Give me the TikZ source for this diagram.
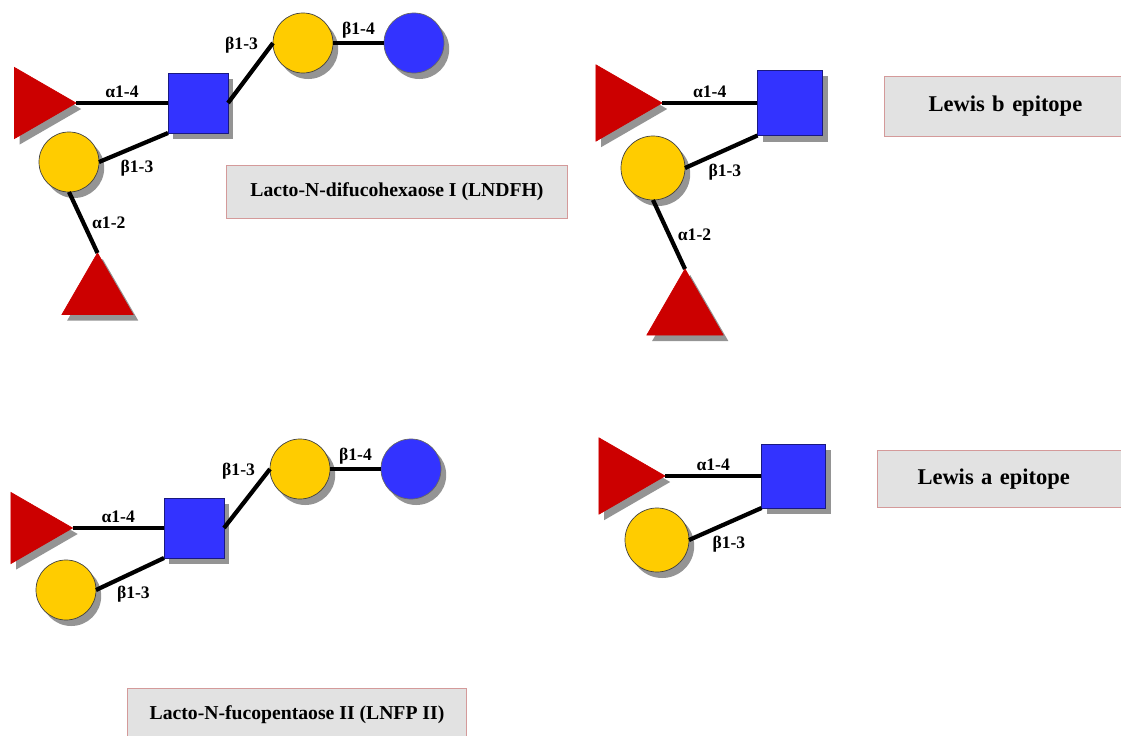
\documentclass[tikz,border=0pt]{standalone}
\usepackage{fontspec}
\setmainfont{Liberation Serif}
\usepackage{tikz}
\usetikzlibrary{positioning}
\usetikzlibrary{shapes.geometric}
\usetikzlibrary{shadows}
\definecolor{fucred}{HTML}{CC0000}
\definecolor{hexblue}{HTML}{3333FF}
\definecolor{galyellow}{HTML}{FFCC00}
\definecolor{boxgray}{HTML}{E2E2E2}
\definecolor{boxline}{HTML}{D49A9A}

\begin{document}
\begin{tikzpicture}[x=0.025cm, y=-0.025cm,
	sugar/.style={inner sep=0, outer sep=0, line width=0.5pt, drop shadow={shadow xshift=0.13cm, shadow yshift=-0.15cm, fill=black!42, opacity=1}},
	fuc/.style={sugar, regular polygon, regular polygon sides=3, minimum size=2.05cm, fill=fucred, draw=fucred},
	fucright/.style={fuc, shape border rotate=-90},
	gal/.style={sugar, circle, minimum size=1.5cm, fill=galyellow, draw=black!75},
	glc/.style={sugar, circle, minimum size=1.5cm, fill=hexblue, draw=black!60},
	glcnac/.style={sugar, rectangle, minimum size=1.5cm, fill=hexblue, draw=hexblue!50!black},
	link/.style={line width=3pt},
	lnk/.style={font=\bfseries\fontsize{12.5}{14}\selectfont, inner sep=2pt},
	namebox/.style={draw=boxline, fill=boxgray, line width=0.7pt, inner sep=0}]
	    		\useasboundingbox (0,0) rectangle (1121,736);
	    		\clip (0,0) rectangle (1121,736);
	    		% LNDFH
	    		\node[fucright] (fucA) at (35,103) {};
	    		\node[glcnac] (gnA) at (198,103) {};
	    		\node[gal] (galA) at (303,43) {};
	    		\node[glc] (glcA) at (414,43) {};
	    		\node[gal] (galAb) at (69,162) {};
	    		\node[fuc] (fucAb) at (97.5,294) {};
	    		\draw[link] (fucA.corner 1) -- node[lnk, above] (a14A) {α1-4} (gnA.west);
	    		\draw[link] (gnA.east) -- node[lnk, pos=0.97, left=0.22cm] (b13A) {β1-3} (galA.west);
	    		\draw[link] (galA) -- node[lnk, above] (b14A) {β1-4} (glcA);
	    		\draw[link] (gnA.south west) -- node[lnk, pos=0.45, below=0.22cm] (b13Ab) {β1-3} (galAb.east);
	    		\draw[link] (galAb.south) -- node[lnk, right=0.1cm] (a12A) {α1-2} (fucAb.corner 1);
	    		\node[namebox, minimum width=8.5cm, minimum height=1.325cm, font=\bfseries\fontsize{14}{16}\selectfont] (nameA) at (397,191.5) {Lacto-N-difucohexaose I (LNDFH)};
	    		% Lewis b
	    		\node[fucright, minimum size=2.2cm] (fucB) at (618,103) {};
	    		\node[glcnac, minimum size=1.625cm] (gnB) at (790,103) {};
	    		\node[gal, minimum size=1.6cm] (galB) at (653,168) {};
	    		\node[fuc, minimum size=2.2cm] (fucBb) at (685,313) {};
	    		\draw[link] (fucB.corner 1) -- node[lnk, above] (a14B) {α1-4} (gnB.west);
	    		\draw[link] (gnB.south west) -- node[lnk, pos=0.45, below=0.22cm] (b13B) {β1-3} (galB.east);
	    		\draw[link] (galB.south) -- node[lnk, right=0.1cm] (a12B) {α1-2} (fucBb.corner 1);
	    		\node[namebox, anchor=west, minimum height=1.475cm, text width=5.2cm, inner xsep=1.1cm, align=left, font=\bfseries\fontsize{16}{18}\selectfont] (nameB) at (884,106.5) {Lewis b epitope};
	    		% LNFP II
	    		\node[fucright] (fucC) at (31.5,528) {};
	    		\node[glcnac] (gnC) at (194,528) {};
	    		\node[gal] (galC) at (300,469) {};
	    		\node[glc] (glcC) at (411,469) {};
	    		\node[gal] (galCb) at (66,590) {};
	    		\draw[link] (fucC.corner 1) -- node[lnk, above] (a14C) {α1-4} (gnC.west);
	    		\draw[link] (gnC.east) -- node[lnk, pos=0.97, left=0.22cm] (b13C) {β1-3} (galC.west);
	    		\draw[link] (galC) -- node[lnk, above] (b14C) {β1-4} (glcC);
	    		\draw[link] (gnC.south west) -- node[lnk, pos=0.45, below=0.22cm] (b13Cb) {β1-3} (galCb.east);
	    		\node[namebox, minimum width=8.45cm, minimum height=1.35cm, font=\bfseries\fontsize{14}{16}\selectfont] (nameC) at (297,715) {Lacto-N-fucopentaose II (LNFP II)};
	    		% Lewis a
	    		\node[fucright, minimum size=2.2cm] (fucD) at (621,476) {};
	    		\node[glcnac, minimum size=1.6cm] (gnD) at (793.5,476) {};
	    		\node[gal, minimum size=1.6cm] (galD) at (657,540) {};
	    		\draw[link] (fucD.corner 1) -- node[lnk, above] (a14D) {α1-4} (gnD.west);
	    		\draw[link] (gnD.south west) -- node[lnk, pos=0.45, below=0.22cm] (b13D) {β1-3} (galD.east);
	    		\node[namebox, anchor=west, minimum height=1.425cm, text width=5.4cm, inner xsep=1.0cm, align=left, font=\bfseries\fontsize{16}{18}\selectfont] (nameD) at (877,479) {Lewis a epitope};
			\end{tikzpicture}
\end{document}
